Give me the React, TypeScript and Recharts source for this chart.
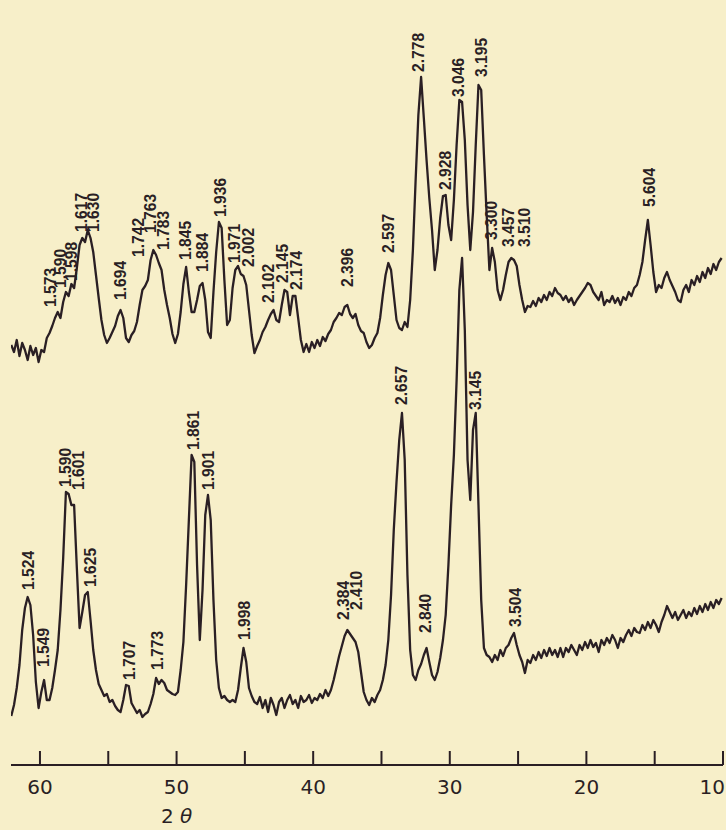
import { ComposedChart, Line, Scatter, XAxis, YAxis } from "recharts";

// diffractometer step scan, 2θ in degrees (Cu Kα)
const twoTheta = [
  62.1, 61.9, 61.7, 61.5, 61.3, 61.1, 60.9, 60.7, 60.5, 60.3,
  60.1, 59.9, 59.7, 59.5, 59.3, 59.1, 58.9, 58.7, 58.5, 58.3,
  58.1, 57.9, 57.7, 57.5, 57.3, 57.1, 56.9, 56.7, 56.5, 56.3,
  56.1, 55.9, 55.7, 55.5, 55.3, 55.1, 54.9, 54.7, 54.5, 54.3,
  54.1, 53.9, 53.7, 53.5, 53.3, 53.1, 52.9, 52.7, 52.5, 52.3,
  52.1, 51.9, 51.7, 51.5, 51.3, 51.1, 50.9, 50.7, 50.5, 50.3,
  50.1, 49.9, 49.7, 49.5, 49.3, 49.1, 48.9, 48.7, 48.5, 48.3,
  48.1, 47.9, 47.7, 47.5, 47.3, 47.1, 46.9, 46.7, 46.5, 46.3,
  46.1, 45.9, 45.7, 45.5, 45.3, 45.1, 44.9, 44.7, 44.5, 44.3,
  44.1, 43.9, 43.7, 43.5, 43.3, 43.1, 42.9, 42.7, 42.5, 42.3,
  42.1, 41.9, 41.7, 41.5, 41.3, 41.1, 40.9, 40.7, 40.5, 40.3,
  40.1, 39.9, 39.7, 39.5, 39.3, 39.1, 38.9, 38.7, 38.5, 38.3,
  38.1, 37.9, 37.7, 37.5, 37.3, 37.1, 36.9, 36.7, 36.5, 36.3,
  36.1, 35.9, 35.7, 35.5, 35.3, 35.1, 34.9, 34.7, 34.5, 34.3,
  34.1, 33.9, 33.7, 33.5, 33.3, 33.1, 32.9, 32.7, 32.5, 32.3,
  32.1, 31.9, 31.7, 31.5, 31.3, 31.1, 30.9, 30.7, 30.5, 30.3,
  30.1, 29.9, 29.7, 29.5, 29.3, 29.1, 28.9, 28.7, 28.5, 28.3,
  28.1, 27.9, 27.7, 27.5, 27.3, 27.1, 26.9, 26.7, 26.5, 26.3,
  26.1, 25.9, 25.7, 25.5, 25.3, 25.1, 24.9, 24.7, 24.5, 24.3,
  24.1, 23.9, 23.7, 23.5, 23.3, 23.1, 22.9, 22.7, 22.5, 22.3,
  22.1, 21.9, 21.7, 21.5, 21.3, 21.1, 20.9, 20.7, 20.5, 20.3,
  20.1, 19.9, 19.7, 19.5, 19.3, 19.1, 18.9, 18.7, 18.5, 18.3,
  18.1, 17.9, 17.7, 17.5, 17.3, 17.1, 16.9, 16.7, 16.5, 16.3,
  16.1, 15.9, 15.7, 15.5, 15.3, 15.1, 14.9, 14.7, 14.5, 14.3,
  14.1, 13.9, 13.7, 13.5, 13.3, 13.1, 12.9, 12.7, 12.5, 12.3,
  12.1, 11.9, 11.7, 11.5, 11.3, 11.1, 10.9, 10.7, 10.5, 10.3,
  10.1,
];

// upper pattern, relative intensity (chart units, offset trace)
const upperCounts = [
  420, 413, 425, 409, 422, 415, 405, 419, 410, 417,
  403, 415, 413, 427, 432, 439, 447, 453, 447, 463,
  473, 469, 481, 477, 497, 520, 527, 523, 535, 527,
  513, 490, 467, 445, 430, 422, 427, 433, 439, 449,
  455, 447, 427, 423, 430, 434, 443, 460, 475, 479,
  485, 505, 515, 510, 502, 495, 475, 460, 447, 431,
  422, 431, 453, 481, 498, 473, 453, 453, 465, 479,
  482, 465, 433, 427, 473, 513, 543, 537, 485, 440,
  445, 477, 495, 499, 491, 489, 480, 455, 430, 412,
  419, 425, 433, 438, 445, 451, 455, 445, 443, 460,
  475, 473, 450, 469, 469, 447, 425, 413, 421, 413,
  423, 417, 425, 419, 428, 424, 431, 435, 443, 447,
  452, 450, 458, 460, 451, 447, 451, 440, 434, 432,
  423, 417, 420, 427, 432, 447, 470, 490, 502, 495,
  470, 445, 437, 435, 443, 438, 465, 515, 585, 650,
  688, 647, 605, 567, 535, 495, 515, 547, 569, 570,
  540, 525, 565, 620, 665, 663, 625, 560, 515, 553,
  620, 680, 675, 610, 550, 495, 517, 503, 475, 465,
  475, 490, 503, 507, 505, 499, 480, 465, 453, 459,
  458, 464, 459, 467, 463, 470, 465, 473, 469, 477,
  472, 470, 465, 469, 463, 467, 460, 465, 469, 473,
  477, 482, 480, 473, 469, 465, 473, 460, 465, 463,
  469, 462, 467, 460, 468, 465, 473, 469, 477, 480,
  490, 503, 525, 545, 520, 493, 473, 480, 477, 487,
  493, 485, 479, 473, 465, 463, 475, 480, 473, 485,
  480, 489, 483, 493, 487, 497, 491, 501, 495, 503,
  507,
];

// lower pattern, relative intensity
const lowerCounts = [
  49, 60, 77, 100, 135, 157, 168, 160, 130, 83,
  57, 73, 85, 65, 65, 77, 95, 115, 155, 207,
  273, 271, 260, 260, 197, 137, 153, 170, 173, 145,
  115, 95, 81, 75, 69, 71, 63, 65, 59, 55,
  53, 65, 80, 79, 62, 57, 52, 55, 48, 51,
  53, 61, 71, 87, 81, 85, 82, 75, 73, 71,
  70, 73, 95, 123, 180, 245, 310, 303, 200, 125,
  175, 250, 270, 245, 165, 105, 77, 67, 69, 65,
  63, 65, 63, 75, 97, 117, 103, 77, 69, 63,
  61, 68, 57, 65, 53, 67, 60, 50, 63, 67,
  57, 65, 70, 61, 65, 57, 69, 63, 65, 70,
  62, 67, 65, 71, 67, 75, 69, 75, 85, 97,
  109, 119, 129, 135, 131, 127, 123, 113, 93, 73,
  65, 60, 67, 63, 70, 75, 85, 100, 125, 170,
  235, 283, 325, 352, 305, 190, 115, 90, 85, 95,
  101, 110, 117, 103, 90, 85, 93, 107, 125, 150,
  200, 260, 310, 385, 475, 507, 435, 305, 265, 335,
  352, 260, 165, 117, 110, 108, 103, 110, 105, 115,
  109, 117, 120, 127, 132, 120, 110, 103, 92, 105,
  102, 110, 105, 113, 107, 115, 109, 117, 110, 115,
  108, 117, 108, 117, 113, 120, 115, 110, 120, 115,
  123, 117, 125, 118, 122, 113, 125, 120, 127, 122,
  130, 125, 117, 127, 123, 130, 135, 129, 137, 133,
  132, 140, 135, 143, 137, 145, 140, 133, 143, 150,
  159, 153, 147, 153, 145, 150, 155, 147, 153, 149,
  157, 151, 159, 153, 161, 155, 163, 157, 165, 161,
  167,
];

// d-spacings (Å) written on the upper pattern, where they stand and how high
const upperPeakD = [
  "1.573", "1.590", "1.598", "1.617", "1.630", "1.694", "1.742", "1.763", "1.783",
  "1.845", "1.884", "1.936", "1.971", "2.002", "2.102", "2.145", "2.174", "2.396",
  "2.597", "2.778", "2.928", "3.046", "3.195", "3.300", "3.457", "3.510", "5.604",
];
const upperPeakAngle = [
  59.27, 58.54, 57.73, 57.0, 56.12, 54.15, 52.83, 51.95, 51.0,
  49.39, 48.15, 46.83, 45.81, 44.78, 43.32, 42.3, 41.27, 37.54,
  34.54, 32.35, 30.37, 29.42, 27.74, 27.01, 25.76, 24.59, 15.45,
];
const upperLabelLevel = [
  458, 477, 484, 533, 533, 465, 508, 532, 515,
  505, 493, 548, 502, 498, 462, 482, 475, 478,
  512, 693, 575, 668, 688, 525, 518, 518, 558,
];

// d-spacings written on the lower pattern
const lowerPeakD = [
  "1.524", "1.549", "1.590", "1.601", "1.625", "1.707", "1.773", "1.861",
  "1.901", "1.998", "2.384", "2.410", "2.657", "2.840", "3.145", "3.504",
];
const lowerPeakAngle = [
  60.88, 59.78, 58.17, 57.22, 56.34, 53.49, 51.44, 48.81,
  47.71, 45.08, 37.83, 36.88, 33.59, 31.84, 28.18, 25.25,
];
const lowerLabelLevel = [
  175, 98, 278, 275, 178, 85, 95, 315,
  275, 125, 145, 155, 360, 132, 355, 138,
];

const axisTicks = [60, 55, 50, 45, 40, 35, 30, 25, 20, 15, 10];

const ink = "#2a1f24";
const paper = "#f7efc9";

const scan = twoTheta.map((t, i) => ({ t, upper: upperCounts[i], lower: lowerCounts[i] }));
const upperLabels = upperPeakD.map((d, i) => ({ d, t: upperPeakAngle[i], level: upperLabelLevel[i] }));
const lowerLabels = lowerPeakD.map((d, i) => ({ d, t: lowerPeakAngle[i], level: lowerLabelLevel[i] }));

const PeakLabel = (props: any) => {
  const { cx, cy, payload } = props;
  if (cx == null || cy == null) return null;
  return (
    <text
      transform={`translate(${cx},${cy}) rotate(-90) scale(0.92,1)`}
      dominantBaseline="central"
      fontFamily="'Liberation Sans', Arial, sans-serif"
      fontWeight="bold"
      fontSize={17}
      fill={ink}
    >
      {payload.d}
    </text>
  );
};

const AxisTick = (props: any) => {
  const { x, y, payload } = props;
  const v = payload.value;
  // the last label sits at the right edge, so keep it inside the frame
  const atEdge = v === 10;
  return (
    <g>
      <line x1={x} x2={x} y1={y - 14} y2={y} stroke={ink} strokeWidth={2} />
      {v % 10 === 0 && (
        <text
          x={atEdge ? x + 2 : x}
          y={y + 29}
          textAnchor={atEdge ? "end" : "middle"}
          fontFamily="'DejaVu Sans', sans-serif"
          fontSize={20}
          fill={ink}
        >
          {v}
        </text>
      )}
      {v === 50 && (
        <text x={x} y={y + 58} textAnchor="middle" fontFamily="'DejaVu Sans', sans-serif" fontSize={20} fill={ink}>
          2 <tspan fontStyle="italic">θ</tspan>
        </text>
      )}
    </g>
  );
};

export default function App() {
  return (
    <div style={{ position: "absolute", left: 0, top: 0, width: 726, height: 830, background: paper }}>
      <ComposedChart width={726} height={830} data={scan} margin={{ top: 0, right: 3, bottom: 0, left: 11 }}>
        <XAxis
          dataKey="t"
          type="number"
          domain={[10, 62.12]}
          reversed
          allowDataOverflow
          ticks={axisTicks}
          interval={0}
          height={65}
          tickSize={0}
          tickMargin={0}
          tick={<AxisTick />}
          axisLine={{ stroke: ink, strokeWidth: 2 }}
        />
        <YAxis type="number" domain={[0, 765]} hide />
        <Line dataKey="upper" type="linear" stroke={ink} strokeWidth={2.3} strokeLinejoin="round" dot={false} isAnimationActive={false} />
        <Line dataKey="lower" type="linear" stroke={ink} strokeWidth={2.3} strokeLinejoin="round" dot={false} isAnimationActive={false} />
        <Scatter data={upperLabels} dataKey="level" shape={<PeakLabel />} isAnimationActive={false} />
        <Scatter data={lowerLabels} dataKey="level" shape={<PeakLabel />} isAnimationActive={false} />
      </ComposedChart>
    </div>
  );
}
